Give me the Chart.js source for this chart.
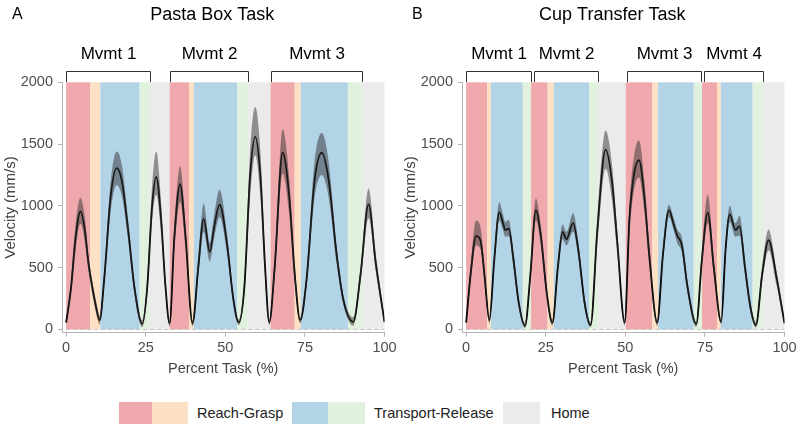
<!DOCTYPE html>
<html>
<head>
<meta charset="utf-8">
<script src="https://cdn.jsdelivr.net/npm/chart.js@4"></script>
<style>
  body { margin: 0; background: #fff; font-family: "Liberation Sans", Arial, sans-serif; }
  #wrap { position: relative; width: 800px; height: 429px; overflow: hidden; }
  canvas { position: absolute; top: 0; }
  #cA { left: 0; }
  #cB { left: 400px; }
  .sw { position: absolute; top: 402px; height: 22px; }
  .lt { position: absolute; top: 402px; line-height: 22px; font-size: 14.5px; color: #222; }
</style>
</head>
<body>
<div id="wrap">
  <canvas id="cA" width="400" height="385"></canvas>
  <canvas id="cB" width="400" height="385"></canvas>
  <div class="sw" style="left:119px;width:33px;background:#efa9ac"></div>
  <div class="sw" style="left:152px;width:36px;background:#fce1c4"></div>
  <div class="lt" style="left:197px">Reach-Grasp</div>
  <div class="sw" style="left:292px;width:36px;background:#b3d3e6"></div>
  <div class="sw" style="left:328px;width:37px;background:#e0f1dd"></div>
  <div class="lt" style="left:374px">Transport-Release</div>
  <div class="sw" style="left:503px;width:37px;background:#ebebeb"></div>
  <div class="lt" style="left:551px">Home</div>
</div>
<script>
// tick labels
const xTicks = [0, 25, 50, 75, 100];
const yTicks = [0, 500, 1000, 1500, 2000];

// Pasta Box Task - mean velocity and ribbon (mm/s) vs percent task
const aX    = [0, 1.5, 3, 4.5, 5.8, 7.0, 8.3, 9.5, 10.5, 12, 14, 15.9, 17.5, 19.5, 21.5, 23.9, 25.5, 27, 28.3, 29.8, 31.2, 32.5, 34, 35.8, 37.5, 39.7, 41.5, 43.2, 45.1, 46.5, 48.2, 50.5, 52.5, 54.2, 56, 57.8, 59.4, 61, 62.5, 63.8, 65.5, 68, 70, 71.8, 73.5, 75.5, 78, 80.3, 82.5, 85, 87.1, 90.2, 92.5, 95, 97.2, 100];
const aMean = [55, 330, 750, 955, 820, 540, 330, 170, 75, 420, 1080, 1305, 1200, 800, 330, 45, 350, 1000, 1235, 900, 350, 50, 750, 1175, 750, 50, 500, 895, 628, 830, 1010, 700, 250, 57, 350, 1250, 1558, 1250, 500, 57, 500, 1430, 1100, 450, 75, 400, 1200, 1430, 1200, 600, 237, 62, 450, 1015, 550, 60];
const aHi   = [75, 380, 860, 1065, 920, 600, 380, 220, 110, 480, 1200, 1440, 1330, 880, 380, 75, 420, 1160, 1440, 1040, 410, 75, 850, 1320, 850, 75, 590, 1020, 700, 930, 1130, 780, 290, 80, 420, 1450, 1800, 1450, 580, 80, 580, 1620, 1250, 520, 100, 460, 1350, 1590, 1350, 670, 280, 100, 510, 1140, 620, 80];
const aLo   = [35, 280, 640, 855, 720, 480, 270, 120, 40, 360, 960, 1170, 1080, 720, 280, 20, 290, 880, 1090, 780, 300, 25, 650, 1030, 660, 25, 430, 790, 550, 740, 910, 620, 210, 35, 290, 1070, 1410, 1080, 420, 35, 420, 1260, 950, 380, 50, 340, 1060, 1250, 1060, 530, 200, 30, 390, 900, 480, 40];

// Cup Transfer Task
const bX    = [0, 1.5, 3.1, 4.5, 5.8, 7.3, 8.8, 10.4, 11.6, 12.3, 13.4, 14.8, 16.5, 18.5, 20.2, 21.9, 23.5, 25.3, 27.1, 28.8, 30.3, 31.5, 33.6, 35.2, 37.3, 39.1, 41.2, 43.8, 45.8, 47.5, 49.8, 51.3, 52.7, 54.3, 56.0, 57.6, 60.0, 61.8, 63.7, 65.2, 66.3, 67.8, 69.5, 72.3, 74.0, 75.9, 77.8, 80.1, 81.5, 82.8, 84.6, 85.9, 87.6, 89.3, 91.0, 93.0, 95.0, 97.5, 100];
const bMean = [55, 470, 755, 720, 430, 75, 550, 950, 860, 805, 815, 580, 220, 30, 450, 965, 750, 300, 55, 500, 790, 730, 860, 650, 200, 35, 800, 1455, 1200, 700, 55, 900, 1250, 1370, 1070, 580, 55, 600, 965, 850, 760, 680, 350, 43, 550, 945, 500, 62, 650, 932, 805, 835, 500, 180, 35, 450, 722, 420, 50];
const bHi   = [75, 540, 880, 830, 490, 100, 610, 1030, 930, 870, 885, 640, 260, 55, 520, 1060, 830, 350, 80, 560, 850, 790, 940, 720, 240, 60, 900, 1610, 1340, 790, 80, 1010, 1400, 1530, 1200, 660, 80, 660, 1010, 900, 810, 740, 400, 65, 620, 1090, 570, 85, 700, 1000, 860, 920, 560, 220, 60, 520, 810, 480, 75];
const bLo   = [35, 400, 680, 650, 380, 45, 490, 880, 800, 750, 755, 520, 180, 10, 390, 880, 680, 250, 30, 440, 730, 680, 790, 590, 160, 15, 680, 1300, 1050, 600, 30, 780, 1120, 1230, 950, 500, 30, 540, 910, 800, 700, 620, 300, 20, 480, 860, 440, 40, 600, 870, 750, 760, 440, 140, 15, 390, 640, 360, 30];

// phase bands: edges in percent task, kind of each band between edges
const aEdges = [0, 7.6, 10.75, 23.1, 26.3, 32.5, 38.6, 40.1, 53.8, 56.9, 64.2, 71.8, 73.7, 88.5, 92.9, 100];
const aKinds = ['reach', 'grasp', 'transport', 'release', 'home', 'reach', 'grasp', 'transport', 'release', 'home', 'reach', 'grasp', 'transport', 'release', 'home'];
const bEdges = [0, 6.6, 7.8, 17.8, 20.4, 25.6, 27.5, 38.6, 41.4, 50.1, 58.5, 60.3, 71.5, 74.1, 78.8, 80.0, 90.0, 93.2, 100];
const bKinds = ['reach', 'grasp', 'transport', 'release', 'reach', 'grasp', 'transport', 'release', 'home', 'reach', 'grasp', 'transport', 'release', 'reach', 'grasp', 'transport', 'release', 'home'];

// movement brackets
const aMoveLabels = ['Mvmt 1', 'Mvmt 2', 'Mvmt 3'];
const aMoveStart  = [0, 32.5, 64.5];
const aMoveEnd    = [26.3, 57.1, 92.8];
const bMoveLabels = ['Mvmt 1', 'Mvmt 2', 'Mvmt 3', 'Mvmt 4'];
const bMoveStart  = [0, 21.2, 50.4, 74.6];
const bMoveEnd    = [20.4, 41.4, 73.7, 93.2];

const bandColors = { reach: '#efa9ac', grasp: '#fce1c4', transport: '#b3d3e6', release: '#e0f1dd', home: '#ebebeb' };
const FONT = '"Liberation Sans", Arial, sans-serif';

const bandPlugin = {
  id: 'bands',
  beforeDatasetsDraw(chart, args, o) {
    const { ctx, scales: { x, y } } = chart;
    const top = y.getPixelForValue(2000), bot = y.getPixelForValue(0);
    ctx.save();
    o.kinds.forEach((k, i) => {
      const x0 = x.getPixelForValue(o.edges[i]);
      const x1 = x.getPixelForValue(o.edges[i + 1]);
      ctx.fillStyle = bandColors[k];
      ctx.fillRect(x0, top, x1 - x0, bot - top);
    });
    ctx.restore();
  }
};

const decorPlugin = {
  id: 'decor',
  afterDraw(chart, args, o) {
    const { ctx, chartArea, scales: { x } } = chart;
    ctx.save();
    ctx.fillStyle = '#000';
    ctx.textBaseline = 'middle';
    ctx.textAlign = 'left';
    ctx.font = '16px ' + FONT;
    ctx.fillText(o.letter, 12, 15);
    ctx.textAlign = 'center';
    ctx.font = '18px ' + FONT;
    ctx.fillText(o.title, (chartArea.left + chartArea.right) / 2 - 11, 15);
    ctx.font = '17px ' + FONT;
    ctx.strokeStyle = '#333';
    ctx.lineWidth = 1;
    o.labels.forEach((lab, i) => {
      const x0 = Math.round(x.getPixelForValue(o.starts[i])) + 0.5;
      const x1 = Math.round(x.getPixelForValue(o.ends[i])) + 0.5;
      ctx.fillText(lab, (x0 + x1) / 2, 54);
      ctx.beginPath();
      ctx.moveTo(x0, 82);
      ctx.lineTo(x0, 71.5);
      ctx.lineTo(x1, 71.5);
      ctx.lineTo(x1, 82);
      ctx.stroke();
    });
    ctx.restore();
  }
};

function pts(xs, ys) {
  return xs.map((v, i) => ({ x: v, y: ys[i] }));
}

function makeChart(id, xs, mean, hi, lo, bands, decor) {
  new Chart(document.getElementById(id), {
    type: 'line',
    data: {
      datasets: [
        { data: [{ x: 0, y: 0 }, { x: 100, y: 0 }], borderColor: '#c4c4c4', borderWidth: 1, borderDash: [4, 3], pointRadius: 0, fill: false },
        { data: pts(xs, lo), borderWidth: 0, pointRadius: 0, fill: false, cubicInterpolationMode: 'monotone' },
        { data: pts(xs, hi), borderWidth: 0, pointRadius: 0, fill: '-1', backgroundColor: 'rgba(50,50,50,0.5)', cubicInterpolationMode: 'monotone' },
        { data: pts(xs, mean), borderColor: '#000', borderWidth: 1.8, pointRadius: 0, fill: false, cubicInterpolationMode: 'monotone' }
      ]
    },
    options: {
      responsive: false,
      animation: false,
      layout: { padding: { top: 82.3, right: 15.5, left: 0, bottom: 0 } },
      plugins: {
        legend: { display: false },
        tooltip: { enabled: false },
        bands: bands,
        decor: decor
      },
      scales: {
        x: {
          type: 'linear', min: -1.3, max: 100,
          afterBuildTicks: s => { s.ticks = xTicks.map(v => ({ value: v })); },
          afterFit: s => { s.height = 385 - 332.7; },
          grid: { drawOnChartArea: false, drawTicks: true, tickLength: 4, color: '#b5b5b5' },
          border: { color: '#b5b5b5', width: 1 },
          ticks: { padding: 3, color: '#4d4d4d', font: { family: FONT, size: 14.5 }, maxRotation: 0, callback: v => String(v) },
          title: { display: true, text: 'Percent Task (%)', color: '#444', font: { family: FONT, size: 14.5 }, padding: { top: 0, bottom: 7 } }
        },
        y: {
          min: -26, max: 2000,
          afterBuildTicks: s => { s.ticks = yTicks.map(v => ({ value: v })); },
          afterFit: s => { s.width = 62; },
          grid: { drawOnChartArea: false, drawTicks: true, tickLength: 4, color: '#b5b5b5' },
          border: { color: '#b5b5b5', width: 1 },
          ticks: { padding: 5, color: '#4d4d4d', font: { family: FONT, size: 14.5 }, callback: v => String(v) },
          title: { display: true, text: 'Velocity (mm/s)', color: '#444', font: { family: FONT, size: 15 }, padding: { top: 2, bottom: 0 } }
        }
      }
    },
    plugins: [bandPlugin, decorPlugin]
  });
}

makeChart('cA', aX, aMean, aHi, aLo,
  { edges: aEdges, kinds: aKinds },
  { letter: 'A', title: 'Pasta Box Task', labels: aMoveLabels, starts: aMoveStart, ends: aMoveEnd });
makeChart('cB', bX, bMean, bHi, bLo,
  { edges: bEdges, kinds: bKinds },
  { letter: 'B', title: 'Cup Transfer Task', labels: bMoveLabels, starts: bMoveStart, ends: bMoveEnd });
</script>
</body>
</html>
